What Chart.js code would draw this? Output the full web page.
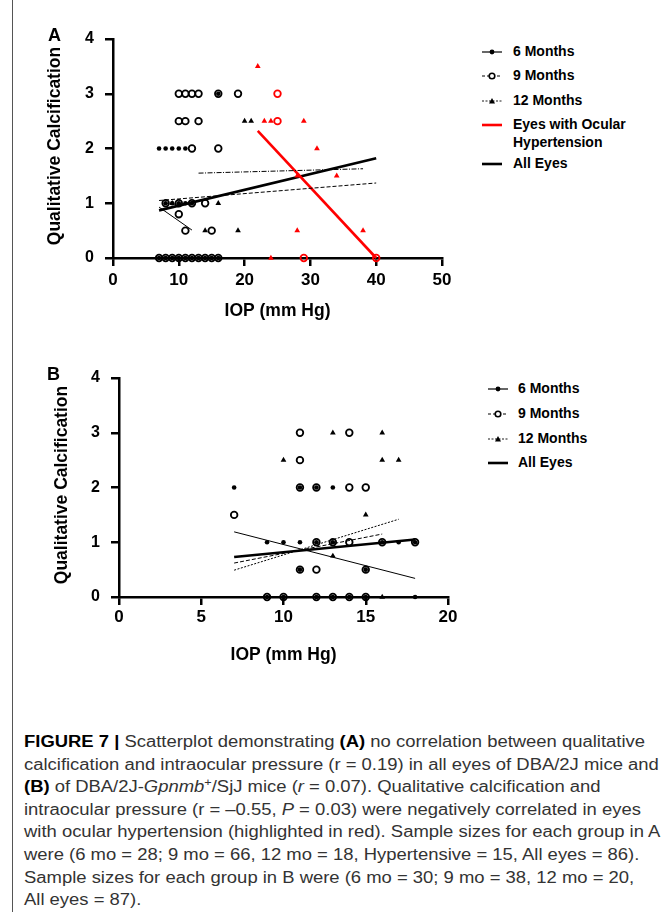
<!DOCTYPE html>
<html>
<head>
<meta charset="utf-8">
<title>Figure 7</title>
<script src="https://cdn.jsdelivr.net/npm/chart.js@4.4.1/dist/chart.umd.min.js"></script>
<style>
  html, body { margin: 0; padding: 0; background: #fff; }
  #page { position: relative; width: 668px; height: 912px; overflow: hidden; font-family: "Liberation Sans", Arial, sans-serif; color: #000; }
  #rule { position: absolute; left: 12px; top: 0; width: 1px; height: 912px; background: #555; }
  canvas { position: absolute; left: 0; }
  #chartA { top: 0; }
  #chartB { top: 330px; }
  .tag { position: absolute; font-weight: bold; font-size: 18px; line-height: 18px; }
  .ytitle { position: absolute; font-weight: bold; white-space: nowrap; line-height: 1; transform: translate(-50%, -50%) rotate(-90deg); }
  .legend { position: absolute; left: 0; top: 0; font-weight: bold; font-size: 14px; }
  .legend .row { position: absolute; white-space: nowrap; line-height: 17.7px; }
  .legend svg { position: absolute; }
  #caption { position: absolute; left: 24px; top: 731px; font-size: 16px; line-height: 22.6px; color: #333; transform-origin: 0 0; white-space: nowrap; }
  #caption div { display: block; }
  #caption b { color: #000; }
</style>
</head>
<body>
<div id="page">
  <div id="rule"></div>
  <canvas id="chartA" width="460" height="322"></canvas>
  <canvas id="chartB" width="460" height="336"></canvas>
  <div class="tag" style="left:48px; top:26px;">A</div>
  <div class="tag" style="left:47px; top:365px;">B</div>
  <div class="ytitle" style="left:55px; top:146px; font-size:17.5px;">Qualitative Calcification</div>
  <div class="ytitle" style="left:61.5px; top:485px; font-size:17.5px;">Qualitative Calcification</div>
  <div class="legend" id="legendA"></div>
  <div class="legend" id="legendB"></div>
  <div id="caption"></div>
</div>
<script>
// ---- Panel A: DBA/2J eyes, IOP (mm Hg) vs qualitative calcification ----
const a6moX = [7, 8, 9, 10, 11, 12, 13, 14, 15, 16, 8, 9, 10, 11, 12, 7, 8, 9, 10, 11, 16];
const a6moY = [0, 0, 0, 0, 0, 0, 0, 0, 0, 0, 1, 1, 1, 1, 1, 2, 2, 2, 2, 2, 3];
const a9moX = [7, 8, 9, 10, 11, 12, 13, 14, 15, 16, 11, 15, 10, 8, 10, 12, 14, 12, 16, 10, 11, 13, 10, 11, 12, 13, 16, 19];
const a9moY = [0, 0, 0, 0, 0, 0, 0, 0, 0, 0, 0.5, 0.5, 0.8, 1, 1, 1, 1, 2, 2, 2.5, 2.5, 2.5, 3, 3, 3, 3, 3, 3];
const a12moX = [9, 16, 14, 19, 20, 21];
const a12moY = [1, 1, 0.5, 0.5, 2.5, 2.5];
// hypertensive eyes (red)
const aHyp9X = [29, 40, 25, 25];
const aHyp9Y = [0, 0, 2.5, 3];
const aHyp12X = [24, 28, 38, 28, 34, 31, 23, 24, 29, 22];
const aHyp12Y = [0, 0.5, 0.5, 1.5, 1.5, 2, 2.5, 2.5, 2.5, 3.5];
// regression lines, end points
const aFit6X = [7, 12];
const aFit6Y = [0.93, 0.51];
const aFit9X = [7, 40];
const aFit9Y = [1.05, 1.37];
const aFit12X = [13, 38];
const aFit12Y = [1.55, 1.63];
const aFitHypX = [22, 40];
const aFitHypY = [2.32, 0];
const aFitAllX = [7, 40];
const aFitAllY = [0.87, 1.82];

// ---- Panel B: DBA/2J-Gpnmb+/SjJ eyes ----
const b6moX = [9, 10, 12, 13, 14, 15, 18, 11, 15, 9, 10, 11, 12, 13, 16, 17, 18, 7, 11, 12, 13];
const b6moY = [0, 0, 0, 0, 0, 0, 0, 0.5, 0.5, 1, 1, 1, 1, 1, 1, 1, 1, 2, 2, 2, 2];
const b9moX = [9, 10, 12, 13, 14, 15, 11, 12, 15, 12, 13, 14, 16, 18, 7, 11, 12, 14, 15, 11, 11, 14];
const b9moY = [0, 0, 0, 0, 0, 0, 0.5, 0.5, 0.5, 1, 1, 1, 1, 1, 1.5, 2, 2, 2, 2, 2.5, 3, 3];
const b12moX = [16, 13, 15, 10, 16, 17, 13, 16];
const b12moY = [0, 0.75, 1.5, 2.5, 2.5, 2.5, 3, 3];
const bFit6X = [7, 18];
const bFit6Y = [1.19, 0.34];
const bFit9X = [7, 16];
const bFit9Y = [0.62, 1.15];
const bFit12X = [7, 17];
const bFit12Y = [0.49, 1.42];
const bFitAllX = [7, 18];
const bFitAllY = [0.73, 1.05];

const legendA = ['6 Months', '9 Months', '12 Months', 'Eyes with Ocular<br>Hypertension', 'All Eyes'];
const legendB = ['6 Months', '9 Months', '12 Months', 'All Eyes'];

const RED = '#ff0000';

function pts(xs, ys) {
    return xs.map((x, i) => ({ x: x, y: ys[i] }));
}

function dots(label, xs, ys, color) {
    return { label, data: pts(xs, ys), pointStyle: 'circle', pointRadius: 2.3,
        pointBackgroundColor: color, pointBorderWidth: 0, clip: false };
}

function rings(label, xs, ys, color) {
    return { label, data: pts(xs, ys), pointStyle: 'circle', pointRadius: 3.3,
        pointBackgroundColor: 'rgba(0,0,0,0)', pointBorderColor: color, pointBorderWidth: 1.8, clip: false };
}

function tris(label, xs, ys, color) {
    return { label, data: pts(xs, ys), pointStyle: 'triangle', pointRadius: 3.3,
        pointBackgroundColor: color, pointBorderColor: color, pointBorderWidth: 0, clip: false };
}

function fit(label, xs, ys, color, width, dash) {
    return { label, data: pts(xs, ys), showLine: true, pointRadius: 0, fill: false,
        borderColor: color, borderWidth: width, borderDash: dash || [], clip: false };
}

function axis(min, max, step, tickFont, tickPad, title, fixSize) {
    const o = {
        type: 'linear', min: min, max: max,
        ticks: { stepSize: step, color: '#000', padding: tickPad, font: { size: tickFont, weight: 'bold' } },
        grid: { drawOnChartArea: false, drawTicks: true, tickLength: 8, color: '#000', lineWidth: 2.5 },
        border: { display: true, color: '#000', width: 2.5 }
    };
    if (title) {
        o.title = { display: true, text: title, color: '#000', padding: 0, font: { size: 17.5, weight: 'bold' } };
    }
    o.afterFit = fixSize;
    return o;
}

Chart.defaults.font.family = '"Liberation Sans", Arial, sans-serif';

new Chart(document.getElementById('chartA'), {
    type: 'scatter',
    data: {
        datasets: [
            dots('6 Months', a6moX, a6moY, '#000'),
            rings('9 Months', a9moX, a9moY, '#000'),
            tris('12 Months', a12moX, a12moY, '#000'),
            rings('9 Months (hypertensive)', aHyp9X, aHyp9Y, RED),
            tris('12 Months (hypertensive)', aHyp12X, aHyp12Y, RED),
            fit('6 Months fit', aFit6X, aFit6Y, '#000', 1),
            fit('9 Months fit', aFit9X, aFit9Y, '#000', 1, [4, 2]),
            fit('12 Months fit', aFit12X, aFit12Y, '#000', 1, [5, 1.5, 1, 1.5]),
            fit('Eyes with Ocular Hypertension', aFitHypX, aFitHypY, RED, 2.6),
            fit('All Eyes', aFitAllX, aFitAllY, '#000', 2.6)
        ]
    },
    options: {
        responsive: false,
        animation: false,
        events: [],
        layout: { padding: { left: 20, top: 39, right: 18, bottom: 0 } },
        plugins: { legend: { display: false }, tooltip: { enabled: false } },
        scales: {
            x: axis(0, 50, 10, 17, 4, 'IOP (mm Hg)', s => { s.height = 64; }),
            y: axis(0, 4, 1, 16, 11, null, s => { s.width = 93; })
        }
    }
});

new Chart(document.getElementById('chartB'), {
    type: 'scatter',
    data: {
        datasets: [
            dots('6 Months', b6moX, b6moY, '#000'),
            rings('9 Months', b9moX, b9moY, '#000'),
            tris('12 Months', b12moX, b12moY, '#000'),
            fit('6 Months fit', bFit6X, bFit6Y, '#000', 1),
            fit('9 Months fit', bFit9X, bFit9Y, '#000', 1, [4, 2]),
            fit('12 Months fit', bFit12X, bFit12Y, '#000', 1, [2, 1.5]),
            fit('All Eyes', bFitAllX, bFitAllY, '#000', 2.6)
        ]
    },
    options: {
        responsive: false,
        animation: false,
        events: [],
        layout: { padding: { left: 20, top: 48, right: 12, bottom: 0 } },
        plugins: { legend: { display: false }, tooltip: { enabled: false } },
        scales: {
            x: axis(0, 20, 5, 17, 2, 'IOP (mm Hg)', s => { s.height = 69; }),
            y: axis(0, 4, 1, 16, 11, null, s => { s.width = 99; })
        }
    }
});

// little line+marker samples for the legends
const icons = {
    m6: '<line x1="0" y1="5" x2="20" y2="5" stroke="#000" stroke-width="1.2"/><circle cx="10" cy="5" r="2.4" fill="#000"/>',
    m9: '<line x1="0" y1="5" x2="20" y2="5" stroke="#000" stroke-width="1" stroke-dasharray="3 2"/><circle cx="10" cy="5" r="2.8" fill="#fff" stroke="#000" stroke-width="1.6"/>',
    m12: '<line x1="0" y1="5" x2="20" y2="5" stroke="#000" stroke-width="0.9" stroke-dasharray="2 1.5"/><polygon points="10,2 13,7.6 7,7.6" fill="#000"/>',
    hyp: '<line x1="0" y1="5" x2="20" y2="5" stroke="' + RED + '" stroke-width="2.6"/>',
    all: '<line x1="0" y1="5" x2="20" y2="5" stroke="#000" stroke-width="2.6"/>'
};

function buildLegend(id, labels, kinds, rowsY, iconX, textX) {
    const el = document.getElementById(id);
    labels.forEach((lab, i) => {
        const y = rowsY[i];
        el.insertAdjacentHTML('beforeend',
            '<svg width="20" height="10" style="left:' + iconX + 'px; top:' + (y - 5) + 'px">' + icons[kinds[i]] + '</svg>' +
            '<div class="row" style="left:' + textX + 'px; top:' + (y - 8.85) + 'px">' + lab + '</div>');
    });
}

buildLegend('legendA', legendA, ['m6', 'm9', 'm12', 'hyp', 'all'], [52, 76, 101, 125, 164], 482, 513);
buildLegend('legendB', legendB, ['m6', 'm9', 'm12', 'all'], [389, 414, 439, 463], 488, 518);

const captionLines = [
    '<b>FIGURE 7 |</b> Scatterplot demonstrating <b>(A)</b> no correlation between qualitative',
    'calcification and intraocular pressure (r = 0.19) in all eyes of DBA/2J mice and',
    '<b>(B)</b> of DBA/2J-<i>Gpnmb</i><sup style="font-size:11px; line-height:0;">+</sup>/SjJ mice (<i>r</i> = 0.07). Qualitative calcification and',
    'intraocular pressure (r = \u20130.55, <i>P</i> = 0.03) were negatively correlated in eyes',
    'with ocular hypertension (highlighted in red). Sample sizes for each group in A',
    'were (6 mo = 28; 9 mo = 66, 12 mo = 18, Hypertensive = 15, All eyes = 86).',
    'Sample sizes for each group in B were (6 mo = 30; 9 mo = 38, 12 mo = 20,',
    'All eyes = 87).'
];

const cap = document.getElementById('caption');
cap.innerHTML = captionLines.map(l => '<div><span>' + l + '</span></div>').join('');
// squeeze the caption horizontally so the first line spans like the printed one
const firstW = cap.querySelector('span').getBoundingClientRect().width;
cap.style.transform = 'scaleX(' + (621 / firstW) + ')';
</script>
</body>
</html>
